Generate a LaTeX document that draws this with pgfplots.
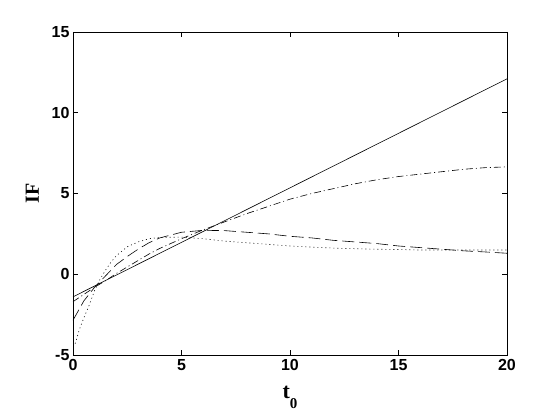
\documentclass[border=0pt]{standalone}
\usepackage{pgfplots}
\pgfplotsset{compat=1.18}
\usepackage{fontspec}
\setmainfont{Liberation Serif}
\setsansfont{Liberation Sans}
\begin{document}
\begin{tikzpicture}[x=1pt,y=1pt]
\useasboundingbox (0,0) rectangle (560,420);
\begin{axis}[
  at={(73pt,65pt)}, anchor=south west,
  scale only axis, width=434pt, height=323pt,
  xmin=0, xmax=20, ymin=-5, ymax=15,
  xtick={0,5,10,15,20}, ytick={-5,0,5,10,15},
  xticklabels={0,5,10,15,20}, yticklabels={-5,0,5,10,15},
  tick align=inside, major tick length=5pt,
  tick style={black, line width=0.6pt},
  axis line style={line width=0.6pt},
  tick label style={font=\sffamily\bfseries\fontsize{16}{16}\selectfont},
  xticklabel style={yshift=-1pt},
  xlabel={\bfseries\fontsize{22}{22}\selectfont t\raisebox{-0.45em}{\fontsize{15}{15}\selectfont 0}},
  ylabel={\bfseries\fontsize{20}{20}\selectfont IF},
  xlabel style={at={(axis description cs:0.5,-0.095)}, anchor=north, inner sep=0pt},
  ylabel style={at={(axis description cs:-0.094,0.5)}, anchor=center, inner sep=0pt},
  every axis plot/.append style={black, line width=0.6pt, mark=none},
]
% solid
\addplot[solid] coordinates {(0,-1.4) (20,12.1)};
% dash-dot
\addplot[dash pattern=on 7pt off 3pt on 1pt off 3pt] coordinates {
 (0,-1.7) (0.5,-1.25) (1,-0.8) (1.5,-0.4) (2,0.05) (2.5,0.45) (3,0.85) (3.5,1.25) (4,1.6)
 (5,2.2) (6,2.75) (7,3.25) (8,3.75) (9,4.2) (10,4.65) (11,5.0) (12,5.3)
 (13,5.6) (14,5.85) (15,6.05) (16,6.2) (17,6.35) (18,6.5) (19,6.6) (20,6.65)};
% dashed
\addplot[dash pattern=on 12pt off 5pt] coordinates {
 (0,-2.85) (0.5,-1.65) (1,-0.8) (1.5,-0.1) (2,0.6) (2.5,1.1) (3,1.55) (3.5,1.95)
 (4,2.25) (5,2.6) (6,2.72) (7,2.7) (8,2.6) (9,2.5) (10,2.35) (11,2.25) (12,2.1)
 (13,2.0) (14,1.9) (15,1.75) (16,1.65) (17,1.55) (18,1.45) (19,1.38) (20,1.3)};
% dotted
\addplot[dash pattern=on 1pt off 3pt] coordinates {
 (0.1,-4.3) (0.3,-3.4) (0.5,-2.7) (0.75,-1.9) (1,-1.0) (1.25,-0.3) (1.5,0.25)
 (1.75,0.75) (2,1.15) (2.5,1.7) (3,2.0) (3.5,2.2) (4,2.28) (5,2.3) (6,2.2)
 (7,2.05) (8,1.95) (9,1.85) (10,1.75) (11,1.68) (12,1.62) (13,1.58) (14,1.55)
 (15,1.53) (16,1.5) (18,1.5) (20,1.5)};
\end{axis}
\end{tikzpicture}
\end{document}
